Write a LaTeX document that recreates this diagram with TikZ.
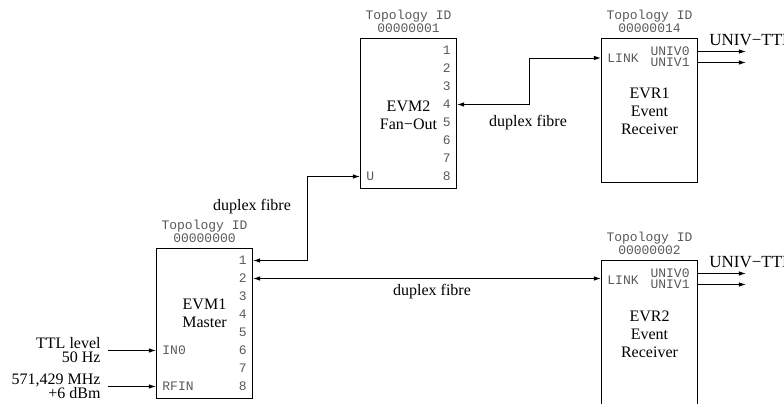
\documentclass[tikz,border=0pt]{standalone}
\usepackage{fontspec}
\setmainfont{Liberation Serif}
\setmonofont{Liberation Mono}
\usetikzlibrary{arrows.meta}
\usetikzlibrary{positioning}

\definecolor{portgray}{gray}{0.35}
\newcommand{\tightlines}{\lineskiplimit=-100pt\relax}

\tikzset{
  >={Latex[length=3.6pt,width=2.3pt]},
  unitbox/.style={draw, line width=0.5pt, anchor=north west, inner sep=0pt, minimum width=48pt, minimum height=75pt},
  port/.style={inner sep=0pt, text=portgray, font=\ttfamily\fontsize{6.5}{6.5}\selectfont},
  topo/.style={port, align=center, font=\ttfamily\fontsize{6.5}{6.3}\selectfont},
  unitname/.style={inner sep=0pt, align=center, font=\fontsize{8}{9}\selectfont},
  fibrelabel/.style={inner sep=0pt, font=\fontsize{8}{9}\selectfont},
  ttllabel/.style={inner sep=0pt, font=\fontsize{8.5}{10}\selectfont},
  inlabel/.style={inner xsep=3.5pt, inner ysep=0pt, align=right, font=\fontsize{8}{7}\selectfont\tightlines},
  sig/.style={line width=0.5pt, ->},
  fibre/.style={line width=0.5pt, <->}
}

\begin{document}
\begin{tikzpicture}[x=0.5pt, y=-0.5pt]
\useasboundingbox (0,0) rectangle (784,403);
\clip (0,0) rectangle (784,403);

% event generators and receivers
\node[unitbox] (evm1) at (156,248) {};
\node[unitbox] (evm2) at (360,38) {};
\node[unitbox, minimum height=72pt] (evr1) at (601,38) {};
\node[unitbox, minimum height=80pt] (evr2) at (601,260) {};

\node[topo, above=2.5pt of evm1] (evm1-id) {Topology ID\\00000000};
\node[topo, above=2.5pt of evm2] (evm2-id) {Topology ID\\00000001};
\node[topo, above=2.5pt of evr1] (evr1-id) {Topology ID\\00000014};
\node[topo, above=2.5pt of evr2] (evr2-id) {Topology ID\\00000002};

\node[unitname] (evm1-name) at ([shift={(0,-10)}]evm1.center) {EVM1\\Master};
\node[unitname] (evm2-name) at ([shift={(0,2)}]evm2.center) {EVM2\\Fan−Out};
\node[unitname] (evr1-name) at ([shift={(0,73)}]evr1.north) {EVR1\\Event\\Receiver};
\node[unitname] (evr2-name) at ([shift={(0,74)}]evr2.north) {EVR2\\Event\\Receiver};

% ports
\foreach \u in {evm1,evm2}
  \foreach \i in {1,...,8}
    \node[port, anchor=east] (\u-p\i) at ([shift={(-6,12.5+18*\i-18)}]\u.north east) {\i};

\node[port, anchor=west] (evm1-in) at ([shift={(6,102.5)}]evm1.north west) {IN0};
\node[port, anchor=west] (evm1-rf) at ([shift={(6,138.5)}]evm1.north west) {RFIN};
\node[port, anchor=west] (evm2-u) at ([shift={(6,138.5)}]evm2.north west) {U};

\foreach \u in {evr1,evr2}{
  \node[port, anchor=west] (\u-link) at ([shift={(6,20)}]\u.north west) {LINK};
  \node[port, anchor=east] (\u-o0) at ([shift={(-8,13.5)}]\u.north east) {UNIV0};
  \node[port, anchor=east] (\u-o1) at ([shift={(-8,24.5)}]\u.north east) {UNIV1};
  \node[ttllabel, anchor=west] (\u-ttl) at ([shift={(11,2)}]\u.north east) {UNIV−TTL};
}

% inputs
\node[inlabel, anchor=east] (in-ttl) at (108,350.5) {TTL level\\50 Hz};
\node[inlabel, anchor=east] (in-rf) at (108,386.5) {571,429 MHz\\+6 dBm};
\draw[sig] (in-ttl.east) -- (evm1.west |- evm1-in);
\draw[sig] (in-rf.east) -- (evm1.west |- evm1-rf);

% fibre links
\draw[fibre] (evm1.east |- evm1-p1) -- ++(54,0) |- (evm2.west |- evm2-u);
\draw[fibre] (evm1.east |- evm1-p2) -- (evr2.west |- evm1-p2);
\draw[fibre] (evm2.east |- evm2-p4) -- ++(72,0) |- (evr1.west |- evr1-link);

\node[fibrelabel] (fibre-a) at (252,207) {duplex fibre};
\node[fibrelabel] (fibre-b) at (432,292) {duplex fibre};
\node[fibrelabel] (fibre-c) at (528,123) {duplex fibre};

% outputs
\foreach \u in {evr1,evr2}{
  \draw[sig] (\u.east |- \u-o0) -- ++(48,0);
  \draw[sig] (\u.east |- \u-o1) -- ++(48,0);
}

\end{tikzpicture}
\end{document}
